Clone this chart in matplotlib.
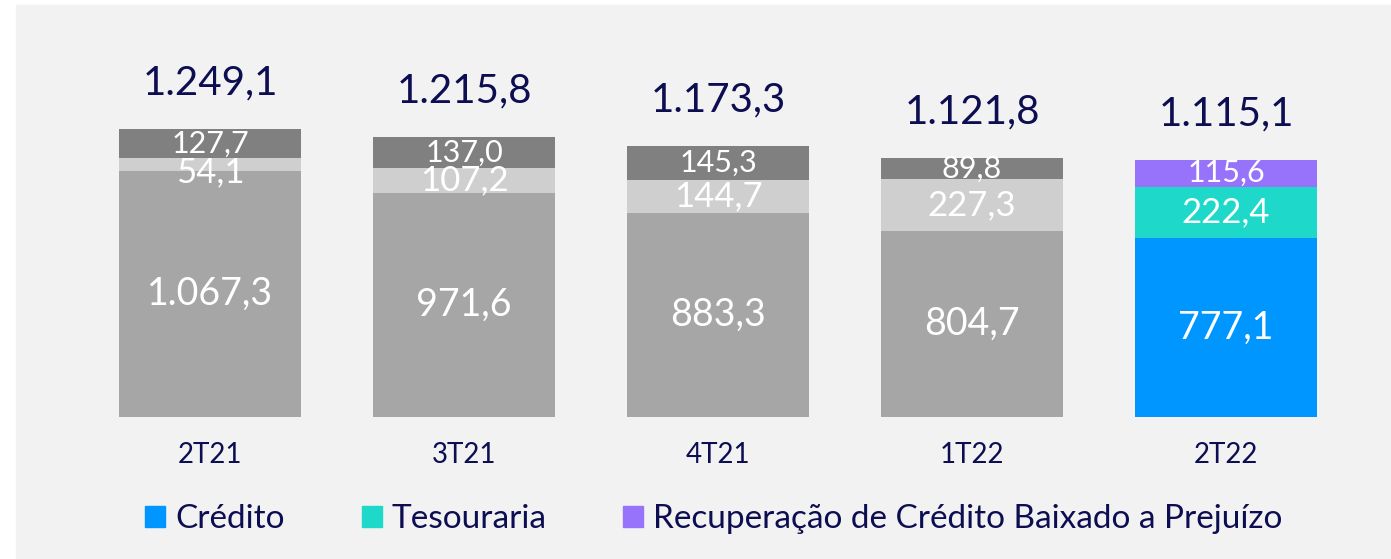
import matplotlib.pyplot as plt
from matplotlib.patches import Rectangle

plt.rcParams['font.family'] = ['Lato', 'DejaVu Sans']

quarters = ['2T21', '3T21', '4T21', '1T22', '2T22']
bottom_vals = [1067.3, 971.6, 883.3, 804.7, 777.1]
middle_vals = [54.1, 107.2, 144.7, 227.3, 222.4]
top_vals = [127.7, 137.0, 145.3, 89.8, 115.6]
totals = ['1.249,1', '1.215,8', '1.173,3', '1.121,8', '1.115,1']

# old quarters are greyed out, last one in colour
bottom_colors = ['#a6a6a6'] * 4 + ['#0096ff']
middle_colors = ['#d0cfcf'] * 4 + ['#1ed9c9']
top_colors = ['#808080'] * 4 + ['#9673fa']
navy = '#0d0d52'

def fmt(v):
    s = f'{v:,.1f}'
    return s.replace(',', 'X').replace('.', ',').replace('X', '.')

W, H = 1391, 559
fig = plt.figure(figsize=(W / 100, H / 100), dpi=100)
fig.patch.set_facecolor('white')
# grey panel behind everything
fig.patches.append(Rectangle((16 / W, 0), 1 - 16 / W, (H - 5) / H,
                             transform=fig.transFigure, color='#f2f2f2', zorder=-1))

# axes placed so the baseline sits at pixel 417 and 1 unit = 0.2306 px
ymax = 1400
px_per_unit = 0.2306
ax_h = ymax * px_per_unit
ax = fig.add_axes([0, (H - 417) / H, 1, ax_h / H])
ax.patch.set_alpha(0)
x = list(range(len(quarters)))
width = 182 / 254

top_bottom = [b + m for b, m in zip(bottom_vals, middle_vals)]
ax.bar(x, bottom_vals, width, color=bottom_colors)
ax.bar(x, middle_vals, width, bottom=bottom_vals, color=middle_colors)
ax.bar(x, top_vals, width, bottom=top_bottom, color=top_colors)

for i in x:
    b, m, t = bottom_vals[i], middle_vals[i], top_vals[i]
    ax.text(i, b / 2, fmt(b), ha='center', va='center', color='white', fontsize=27)
    ym = b + m / 2 if m > 80 else b + m / 2 - 35
    ax.text(i, ym, fmt(m), ha='center', va='center', color='white', fontsize=25)
    ax.text(i, b + m + t / 2, fmt(t), ha='center', va='center', color='white', fontsize=22)
    ax.text(i, b + m + t + 200, totals[i], ha='center', va='center', color=navy,
            fontsize=29, clip_on=False)
    ax.text(i, -165, quarters[i], ha='center', va='center', color=navy,
            fontsize=20, clip_on=False)

ax.set_xlim(-210 / 254, (W - 210) / 254)
ax.set_ylim(0, ymax)
ax.axis('off')

handles = [Rectangle((0, 0), 1, 1, color=c) for c in ['#0096ff', '#1ed9c9', '#9673fa']]
labels = ['Crédito', 'Tesouraria', 'Recuperação de Crédito Baixado a Prejuízo']
leg = fig.legend(handles, labels, loc='center', bbox_to_anchor=(714 / W, 1 - 519 / H),
                 ncol=3, frameon=False, fontsize=24, handlelength=0.6, handleheight=0.6,
                 handletextpad=0.3, columnspacing=2.3)
for t in leg.get_texts():
    t.set_color(navy)

fig.savefig('out.png', dpi=100)
